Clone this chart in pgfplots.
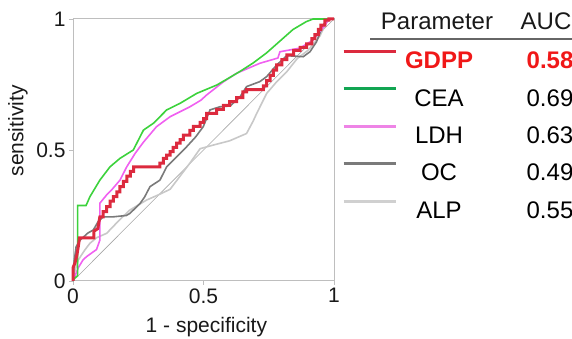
\documentclass[border=0pt]{standalone}
\usepackage{fontspec}
\setmainfont{Liberation Sans}
\usepackage{pgfplots}
\pgfplotsset{compat=1.18}

\definecolor{gdppline}{HTML}{DC2A3E}
\definecolor{gdpptext}{HTML}{F01818}
\definecolor{cealine}{HTML}{3CD23C}
\definecolor{cealeg}{HTML}{12A552}
\definecolor{ldhline}{HTML}{F060F0}
\definecolor{ldhleg}{HTML}{EE84E6}
\definecolor{ocline}{HTML}{7A7A7A}
\definecolor{alpline}{HTML}{C8C8C8}
\definecolor{frame}{HTML}{BEBEBE}

\newcommand{\legfont}{\fontsize{24}{24}\selectfont}

\begin{document}
\begin{tikzpicture}[x=1pt,y=1pt]
\useasboundingbox (0,0) rectangle (572,339);

% table header
\node[anchor=base, font=\legfont, text=black!90] at (437,309) {Parameter};
\node[anchor=base, font=\legfont, text=black!90] at (546,309) {AUC};
\draw[black!60, line width=1.2pt] (370,300) -- (572,300);

\begin{axis}[
  at={(73pt,58pt)}, anchor=south west,
  scale only axis, width=261pt, height=262pt,
  xmin=0, xmax=1, ymin=0, ymax=1,
  xtick={0,0.5,1}, ytick={0,0.5,1},
  xticklabels={0,0.5,1}, yticklabels={0,0.5,1},
  axis line style={draw=frame, line width=1pt},
  tick style={draw=frame, line width=0.8pt},
  tick align=outside, major tick length=4pt, tick pos=left,
  ticklabel style={font=\fontsize{21}{21}\selectfont, text=black!90},
  /pgf/number format/assume math mode=true,
  xlabel={1 - specificity},
  ylabel={sensitivity},
  label style={font=\fontsize{21}{21}\selectfont, text=black!90},
  xlabel style={at={(axis description cs:0.511,-0.195)}, anchor=base},
  ylabel style={at={(axis description cs:-0.211,0.573)}, anchor=center},
  clip=false,
  legend style={at={(1.0307,0.8817)}, anchor=north west, draw=none, fill=none,
    inner sep=0pt, outer sep=0pt, row sep=18.7pt, column sep=4pt,
    font=\legfont, legend cell align=left,
    nodes={inner sep=0pt, outer sep=0pt, text height=17.2pt, text depth=0pt}},
  legend image code/.code={\draw (0pt,8.6pt) -- (52pt,8.6pt);},
]

% chance line
\addplot[forget plot, black!35, line width=0.6pt] coordinates {(0,0) (1,1)};

% ALP
\addplot[forget plot, alpline, line width=1.6pt] coordinates {
(0,0) (0.005,0.03) (0.02,0.08) (0.045,0.118) (0.065,0.144) (0.09,0.165)
(0.129,0.182) (0.18,0.235) (0.218,0.271) (0.282,0.309) (0.33,0.33)
(0.372,0.35) (0.41,0.40) (0.448,0.45) (0.487,0.505) (0.538,0.519)
(0.60,0.535) (0.665,0.563) (0.69,0.61) (0.704,0.64) (0.742,0.716)
(0.78,0.76) (0.82,0.80) (0.86,0.85) (0.9,0.88) (0.946,0.935)
(0.972,0.99) (0.985,1) (1,1)};

% OC
\addplot[forget plot, ocline, line width=1.6pt] coordinates {
(0,0) (0.005,0.08) (0.012,0.131) (0.027,0.156) (0.057,0.183) (0.078,0.195)
(0.096,0.226) (0.116,0.245) (0.155,0.245) (0.204,0.25) (0.218,0.258)
(0.257,0.296) (0.274,0.32) (0.295,0.36) (0.333,0.385) (0.359,0.436)
(0.397,0.474) (0.436,0.513) (0.47,0.55) (0.499,0.589) (0.525,0.653)
(0.563,0.665) (0.602,0.668) (0.64,0.703) (0.665,0.742) (0.716,0.761)
(0.742,0.78) (0.78,0.824) (0.819,0.86) (0.882,0.856) (0.908,0.875)
(0.933,0.913) (0.958,0.977) (0.985,1) (1,1)};

% LDH
\addplot[forget plot, ldhline, line width=1.6pt] coordinates {
(0,0) (0.008,0.02) (0.02,0.05) (0.038,0.08) (0.052,0.093) (0.09,0.12)
(0.103,0.156) (0.103,0.297) (0.13,0.33) (0.15,0.35) (0.18,0.385)
(0.206,0.436) (0.238,0.487) (0.27,0.53) (0.32,0.589) (0.372,0.627)
(0.448,0.665) (0.49,0.69) (0.512,0.71) (0.576,0.76) (0.627,0.793)
(0.716,0.831) (0.785,0.851) (0.793,0.875) (0.87,0.889) (0.92,0.92)
(0.94,0.946) (0.966,0.977) (0.98,1) (1,1)};

% CEA
\addplot[forget plot, cealine, line width=1.6pt] coordinates {
(0,0) (0.005,0.01) (0.018,0.02) (0.018,0.288) (0.05,0.288) (0.065,0.322)
(0.103,0.385) (0.142,0.436) (0.18,0.468) (0.231,0.5) (0.27,0.576)
(0.308,0.602) (0.359,0.653) (0.41,0.678) (0.474,0.716) (0.551,0.748)
(0.589,0.77) (0.64,0.80) (0.69,0.832) (0.741,0.87) (0.792,0.915)
(0.843,0.96) (0.894,0.99) (0.92,1) (1,1)};

% GDPP
\addplot[forget plot, gdppline, line width=3pt] coordinates {
(0,0) (0,0.05) (0.008,0.07) (0.015,0.1) (0.02,0.13) (0.025,0.165)
(0.08,0.165) (0.08,0.19) (0.095,0.2) (0.103,0.245) (0.115,0.245)
(0.115,0.265) (0.129,0.265) (0.129,0.284) (0.142,0.284) (0.142,0.305)
(0.155,0.305) (0.155,0.322) (0.168,0.322) (0.168,0.34) (0.18,0.34)
(0.18,0.36) (0.193,0.36) (0.193,0.38) (0.206,0.38) (0.206,0.4)
(0.22,0.4) (0.22,0.418) (0.232,0.418) (0.232,0.436) (0.333,0.436)
(0.333,0.45) (0.346,0.45) (0.346,0.468) (0.359,0.468) (0.359,0.48)
(0.372,0.48) (0.372,0.494) (0.384,0.494) (0.384,0.51) (0.397,0.51)
(0.397,0.526) (0.41,0.526) (0.41,0.54) (0.423,0.54) (0.423,0.557)
(0.448,0.557) (0.448,0.575) (0.461,0.575) (0.461,0.59) (0.487,0.59)
(0.487,0.605) (0.5,0.605) (0.5,0.62) (0.512,0.62) (0.512,0.64)
(0.55,0.64) (0.55,0.655) (0.576,0.655) (0.576,0.67) (0.6,0.67)
(0.6,0.685) (0.627,0.685) (0.627,0.7) (0.651,0.7) (0.651,0.722)
(0.665,0.722) (0.665,0.73) (0.729,0.73) (0.729,0.745) (0.742,0.745)
(0.742,0.765) (0.755,0.765) (0.755,0.785) (0.768,0.785) (0.768,0.805)
(0.78,0.805) (0.78,0.825) (0.8,0.825) (0.8,0.845) (0.819,0.845)
(0.819,0.863) (0.845,0.863) (0.845,0.88) (0.87,0.88) (0.87,0.892)
(0.895,0.892) (0.895,0.905) (0.915,0.905) (0.915,0.925) (0.927,0.925)
(0.927,0.94) (0.94,0.94) (0.94,0.96) (0.95,0.96) (0.95,0.977)
(0.965,0.977) (0.965,0.996) (0.98,0.996) (0.98,1) (1,1)};

% legend rows
\addlegendimage{gdppline, line width=3pt}
\addlegendentry{\makebox[76pt]{\textbf{\color{gdpptext}GDPP}}\hspace{48pt}\makebox[50pt]{\textbf{\color{gdpptext}0.58}}}
\addlegendimage{cealeg, line width=3pt}
\addlegendentry{\makebox[76pt]{CEA}\hspace{48pt}\makebox[50pt]{0.69}}
\addlegendimage{ldhleg, line width=3pt}
\addlegendentry{\makebox[76pt]{LDH}\hspace{48pt}\makebox[50pt]{0.63}}
\addlegendimage{ocline, line width=3pt}
\addlegendentry{\makebox[76pt]{OC}\hspace{48pt}\makebox[50pt]{0.49}}
\addlegendimage{alpline!85!white, line width=3pt}
\addlegendentry{\makebox[76pt]{ALP}\hspace{48pt}\makebox[50pt]{0.55}}
\end{axis}
\end{tikzpicture}
\end{document}
